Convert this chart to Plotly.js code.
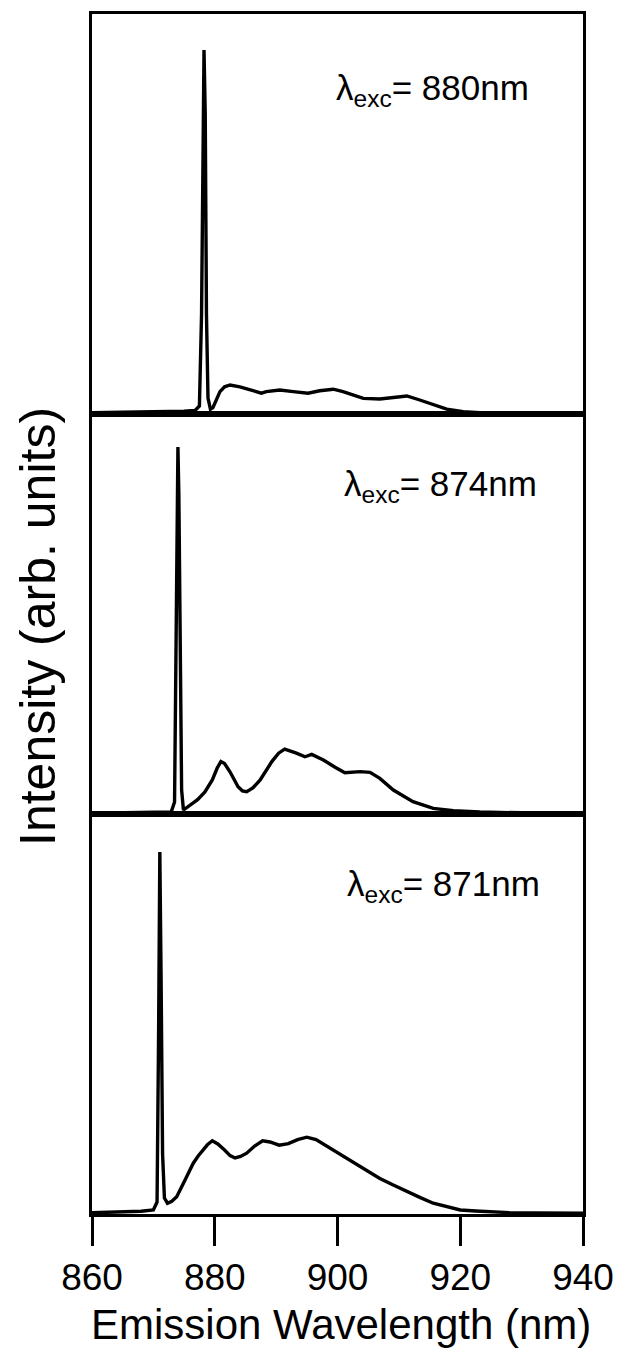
<!DOCTYPE html>
<html>
<head>
<meta charset="utf-8">
<script src="https://cdn.plot.ly/plotly-3.0.1.min.js"></script>
<style>html,body{margin:0;padding:0;background:#fff;}#plot{width:617px;height:1348px;}</style>
</head>
<body>
<div id="plot"></div>
<script>
// Excitation 880 nm (top panel)
const wl880 = [860, 866, 872, 875, 876.8, 877.5, 877.85, 878.05, 878.25, 878.45, 878.65, 878.9, 879.3, 879.7, 880.0, 880.4, 880.85, 881.6, 882.5, 884.1, 885.7, 887.6, 888.4, 890.6, 892.8, 895.2, 897.1, 899.3, 900.9, 902.6, 904.2, 906.9, 909.1, 911.3, 913.4, 915.6, 917.8, 920.5, 923.2, 930, 940];
const int880 = [0.3, 0.4, 0.5, 0.7, 0.9, 2, 25, 75, 91, 75, 25, 4, 1.2, 1.6, 2.7, 4.3, 5.6, 6.8, 7.25, 6.8, 6.0, 5.2, 5.6, 6.0, 5.6, 5.2, 5.8, 6.2, 5.6, 4.75, 3.9, 3.75, 4.1, 4.5, 3.5, 2.25, 1.2, 0.6, 0.3, 0.2, 0.2];

// Excitation 874 nm (middle panel)
const wl874 = [860, 866, 870, 872.9, 873.45, 873.7, 873.85, 874.0, 874.15, 874.35, 874.6, 874.9, 876.0, 877.2, 878.4, 879.6, 880.4, 881.0, 881.6, 882.5, 883.8, 884.5, 885.2, 886.2, 887.4, 889.3, 890.4, 891.4, 893.3, 894.7, 895.8, 897.7, 899.6, 901.2, 903.7, 905.3, 906.9, 909.1, 912.3, 915.6, 918.9, 923.2, 930, 940];
const int874 = [0.2, 0.3, 0.4, 0.5, 3, 40, 80, 91.75, 80, 40, 6, 1.0, 2.2, 3.6, 5.5, 8.5, 11.5, 13.1, 12.6, 10.5, 6.8, 5.8, 5.6, 6.5, 8.5, 13.1, 15.2, 16.2, 15.2, 14.3, 14.9, 13.5, 11.7, 10.3, 10.6, 10.4, 8.9, 6, 3.1, 1.4, 0.8, 0.5, 0.3, 0.2];

// Excitation 871 nm (bottom panel)
const wl871 = [860, 865, 868, 870, 870.6, 870.85, 871.05, 871.25, 871.5, 871.8, 872.3, 873.0, 873.8, 874.9, 875.7, 876.5, 877.3, 878.1, 878.8, 879.6, 880.5, 881.6, 882.5, 883.3, 884.2, 885.2, 886.5, 887.8, 889.0, 890.5, 892.0, 893.5, 895.0, 896.5, 898.0, 899.3, 901.0, 903.1, 905.0, 906.9, 909.0, 911.3, 913.5, 915.6, 918, 920, 922.5, 924.8, 928, 932, 940];
const int871 = [0.3, 0.5, 0.7, 1.0, 3, 45, 90.5, 60, 15, 4, 2.7, 3.2, 4.3, 7.7, 10.3, 12.7, 14.5, 16, 17.3, 18.3, 17.5, 16, 14.6, 14, 14.4, 15.2, 17, 18.3, 18, 17.2, 17.6, 18.6, 19.2, 18.6, 17.2, 15.8, 14.2, 12.3, 10.6, 8.9, 7.3, 5.6, 4.1, 2.7, 1.7, 1.0, 0.75, 0.55, 0.35, 0.25, 0.2];

const xTicks = [860, 880, 900, 920, 940];
const labels = ['λ<sub>exc</sub>= 880nm', 'λ<sub>exc</sub>= 874nm', 'λ<sub>exc</sub>= 871nm'];
const labelX = [899.4, 900.7, 901.3];
const labelY = [81, 82, 82];

const FONT = 'Liberation Sans, Arial, Helvetica, sans-serif';
const line = {color: '#000', width: 3.4};

const traces = [
  {x: wl871, y: int871, xaxis: 'x', yaxis: 'y', mode: 'lines', line: line, hoverinfo: 'skip'},
  {x: wl874, y: int874, xaxis: 'x2', yaxis: 'y2', mode: 'lines', line: line, hoverinfo: 'skip'},
  {x: wl880, y: int880, xaxis: 'x3', yaxis: 'y3', mode: 'lines', line: line, hoverinfo: 'skip'}
];

const xBase = {range: [860, 940], showgrid: false, zeroline: false, showline: true, mirror: true,
  linecolor: '#000', linewidth: 3, fixedrange: true};
const yBase = {range: [0, 100], showgrid: false, zeroline: false, showline: true, mirror: true,
  linecolor: '#000', linewidth: 3, showticklabels: false, ticks: '', fixedrange: true};

const layout = {
  width: 617, height: 1348,
  margin: {l: 92, r: 34, t: 14, b: 134},
  paper_bgcolor: '#fff', plot_bgcolor: '#fff',
  showlegend: false,
  font: {family: FONT, color: '#000'},
  xaxis: Object.assign({}, xBase, {anchor: 'y', tickmode: 'array', tickvals: xTicks,
    ticktext: xTicks.map(String), ticks: 'outside', ticklen: 29, tickwidth: 3, tickcolor: '#000',
    tickfont: {family: FONT, size: 37, color: '#000'}}),
  xaxis2: Object.assign({}, xBase, {anchor: 'y2', showticklabels: false, ticks: ''}),
  xaxis3: Object.assign({}, xBase, {anchor: 'y3', showticklabels: false, ticks: ''}),
  yaxis: Object.assign({}, yBase, {domain: [0, 1/3], anchor: 'x'}),
  yaxis2: Object.assign({}, yBase, {domain: [1/3, 2/3], anchor: 'x2'}),
  yaxis3: Object.assign({}, yBase, {domain: [2/3, 1], anchor: 'x3'}),
  annotations: [
    {text: 'Emission Wavelength (nm)', xref: 'paper', yref: 'paper', x: 0.508, y: -0.092,
     xanchor: 'center', yanchor: 'middle', showarrow: false, font: {family: FONT, size: 42, color: '#000'}},
    {text: 'Intensity (arb. units)', xref: 'paper', yref: 'paper', x: -0.11, y: 0.49, textangle: -90,
     xanchor: 'center', yanchor: 'middle', showarrow: false, font: {family: FONT, size: 50, color: '#000'}}
  ]
};

const yrefs = ['y3', 'y2', 'y'];
const xrefs = ['x3', 'x2', 'x'];
for (let i = 0; i < 3; i++) {
  layout.annotations.push({text: labels[i], xref: xrefs[i], yref: yrefs[i], x: labelX[i], y: labelY[i],
    xanchor: 'left', yanchor: 'middle', showarrow: false, font: {family: FONT, size: 35, color: '#000'}});
}

Plotly.newPlot('plot', traces, layout, {staticPlot: true, displayModeBar: false});
</script>
</body>
</html>
